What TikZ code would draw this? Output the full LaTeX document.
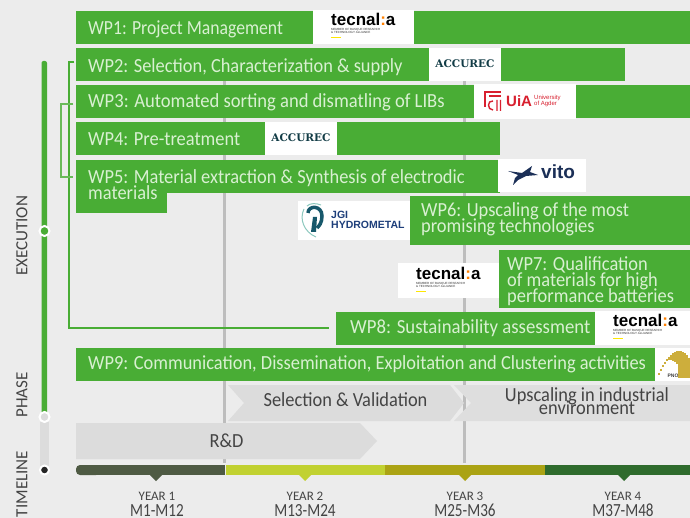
\documentclass[tikz,border=0pt]{standalone}
\usepackage{fontspec}
\setmainfont{Carlito}
\newfontfamily\wpfont[FakeStretch=0.92]{Carlito}
\newfontfamily\monthfont[FakeStretch=0.82]{Carlito}
\newfontfamily\logofont{Liberation Sans}
\newfontfamily\slabfont{DejaVu Serif}
\newcommand{\tightls}{\lineskiplimit -100pt\relax}
\definecolor{bg}{HTML}{ECECEC}
\definecolor{wpgreen}{HTML}{49AD35}
\definecolor{wptext}{HTML}{D9F0D2}
\definecolor{vline}{HTML}{BDBDBD}
\definecolor{chev}{HTML}{DCDCDC}
\definecolor{darktxt}{HTML}{444444}
\definecolor{yrA}{HTML}{4E5A43}
\definecolor{yrB}{HTML}{C1D131}
\definecolor{yrC}{HTML}{ABA314}
\definecolor{yrD}{HTML}{2F6B2D}
\definecolor{acc}{HTML}{123C46}
\definecolor{uia}{HTML}{D8202F}
\definecolor{vit}{HTML}{1B2F57}
\definecolor{jgi}{HTML}{1D3E7A}
\definecolor{gold}{HTML}{CDAE3C}
\definecolor{jgidark}{HTML}{17586B}
\definecolor{jgilight}{HTML}{8CC8BE}
\tikzset{
  x=1pt,y=-1pt,
  wpbar/.style={fill=wpgreen,draw=none},
  logobox/.style={fill=white,draw=none},
  wplabel/.style={anchor=base west,inner sep=0pt,text=wptext,font=\wpfont\fontsize{20}{16}\selectfont\tightls,align=left},
  chevlabel/.style={anchor=base,inner sep=0pt,text=darktxt,font=\wpfont\fontsize{20}{13}\selectfont\tightls,align=center},
  yearlabel/.style={anchor=base,inner sep=0pt,text=darktxt,font=\fontsize{13}{13}\selectfont},
  monthlabel/.style={anchor=base,inner sep=0pt,text=darktxt,font=\monthfont\fontsize{18.5}{18}\selectfont},
  sidelabel/.style={inner sep=0pt,rotate=90,text=darktxt,font=\fontsize{17}{17}\selectfont},
  tecword/.style={inner sep=0pt,font=\logofont\bfseries\fontsize{17}{17}\selectfont},
  tecsmall/.style={inner sep=0pt,anchor=north west,align=left,text=black!80,font=\logofont\fontsize{3}{3.4}\selectfont},
  accword/.style={inner sep=0pt,text=acc,font=\slabfont\bfseries\fontsize{10.5}{10.5}\selectfont},
  ringdot/.style={circle,draw=white,line width=2pt,minimum size=10pt,inner sep=0pt},
}
\newcommand{\teclogo}[2]{%
  \node[tecword,anchor=west] at (#1,#2) {tecnal\textcolor{orange}{:}a};
  \node[tecsmall] at (#1,#2+9) {MEMBER OF BASQUE RESEARCH\\\& TECHNOLOGY ALLIANCE};
  \fill[yellow!90!orange] (#1,#2+18) rectangle (#1+10,#2+19.3);
}
\begin{document}
\begin{tikzpicture}
\useasboundingbox (0,0) rectangle (690,518);
\fill[bg] (0,0) rectangle (690,518);
% vertical guides
\fill[vline] (223,81) rectangle (226,463);
\fill[vline] (463,81) rectangle (466,463);
% left rail
\fill[chev] (40,415) rectangle (49,470);
\fill[wpgreen,rounded corners=2pt] (41.5,61) rectangle (47,417);
\node[ringdot,fill=wpgreen] (railA) at (44.5,231) {};
\node[ringdot,fill=chev] (railB) at (44.5,417) {};
\node[ringdot,fill=black!85,minimum size=9pt] (railC) at (44.5,470) {};
\node[sidelabel] (lblExec) at (22,236) {EXECUTION};
\node[sidelabel] (lblPhase) at (22,395) {PHASE};
\node[sidelabel] (lblTime) at (22,484) {TIMELINE};
% brackets
\draw[wpgreen,line width=2pt] (74,62) -- (69,62) -- (69,328) -- (329,328);
\draw[wpgreen!80!bg,line width=1.5pt] (73,104) -- (61,104) -- (61,177) -- (73,177);
% WP bars
\fill[wpbar] (76,11) rectangle (690,44);
\fill[logobox] (313,10) rectangle (414,44);
\node[wplabel] (wpA) at (88,34.3) {\scalebox{0.96}[1]{WP1: Project Management}};
\teclogo{331}{19}
\fill[wpbar] (76,48) rectangle (625,81);
\fill[logobox] (429,48) rectangle (501,81);
\node[wplabel] (wpB) at (88,73) {WP2: Selection, Characterization \& supply};
\node[accword] (logoB) at (465,64) {ACCUREC};
\fill[wpbar] (76,85) rectangle (690,118);
\fill[logobox] (474,84) rectangle (576,119);
\node[wplabel] (wpC) at (88,108) {\scalebox{1.01}[1]{WP3: Automated sorting and dismatling of LIBs}};
\draw[uia,line width=1.4pt] (485,107) -- (485,92) -- (501,92) (489,96) -- (501,96);
\draw[uia,line width=1.4pt] (497,100) -- (497,111) (500.5,100) -- (500.5,111) (493,101) .. controls (487,100) and (487,110) .. (493,110);
\node[inner sep=0pt,text=uia,anchor=west,font=\logofont\bfseries\fontsize{15}{15}\selectfont] (logoC) at (506,101) {UiA};
\node[inner sep=0pt,text=uia,anchor=west,align=left,font=\logofont\fontsize{6}{6}\selectfont] (logoCb) at (534,101) {University\\of Agder};
\fill[wpbar] (76,122) rectangle (500,155);
\fill[logobox] (265,122) rectangle (337,155);
\node[wplabel] (wpD) at (88,146) {WP4: Pre-treatment};
\node[accword] (logoD) at (301,138) {ACCUREC};
\fill[wpbar] (76,160) rectangle (500,193);
\fill[wpbar] (76,160) rectangle (167,213);
\fill[logobox] (498,159) rectangle (586,192);
\node[wplabel] (wpE) at (88,200) {WP5: Material extraction \& Synthesis of electrodic\\materials};
\fill[vit] (508,171) -- (522,173) -- (532,166) -- (530,172) -- (538,175) -- (526,176) -- (518,180) -- (513,185) -- (515,178) -- (518,175) -- cycle;
\node[inner sep=0pt,text=vit,anchor=west,font=\logofont\bfseries\fontsize{19}{19}\selectfont] (logoE) at (541,172) {vito};
\fill[logobox] (298,201) rectangle (410,240);
\draw[jgilight,line width=1pt] (304,209) .. controls (299,219) and (304,232) .. (316,237);
\draw[jgilight,line width=1pt] (307,206) .. controls (310,203) and (316,203) .. (321,205);
\draw[jgidark,line width=3.5pt] (308,213) .. controls (308,205) and (322,205) .. (322,216) .. controls (322,223) and (319,226) .. (317,228);
\fill[jgidark] (313,217) -- (317,217) -- (316,232) -- (311,232) -- cycle;
\node[inner sep=0pt,text=jgi,anchor=west,align=left,font=\logofont\bfseries\fontsize{10.5}{10}\selectfont\tightls] (logoF) at (331,220) {JGI\\HYDROMETAL};
\fill[wpbar] (410,196) rectangle (690,245);
\node[wplabel] (wpF) at (421,233) {WP6: Upscaling of the most\\promising technologies};
\fill[logobox] (398,263) rectangle (499,298);
\teclogo{416}{273}
\fill[wpbar] (499,250) rectangle (690,308);
\node[wplabel] (wpG) at (507,302) {WP7: Qualification\\of materials for high\\performance batteries};
\fill[wpbar] (336,312) rectangle (595,345);
\fill[logobox] (595,311) rectangle (690,345);
\node[wplabel] (wpH) at (350,333) {\scalebox{1.02}[1]{WP8: Sustainability assessment}};
\teclogo{613}{320}
\fill[wpbar] (76,348) rectangle (655,381);
\fill[logobox] (655,348) rectangle (690,381);
\node[wplabel] (wpI) at (88,369) {WP9: Communication, Dissemination, Exploitation and Clustering activities};
\foreach \px in {659,661,...,689}{
  \pgfmathsetmacro{\topy}{\px<679 ? 351+((679-\px)/20)^2*22 : 351+((\px-679)/11)^2*8}
  \pgfmathsetmacro{\boty}{\px<668 ? \topy+2 : (\px<679 ? \topy+(\px-668)*1.2+2 : 378)}
  \draw[gold,line width=1.1pt] (\px,\topy) -- (\px,\boty);
}
\node[inner sep=0pt,font=\logofont\bfseries\fontsize{5}{5}\selectfont,text=black!75] (logoI) at (673,376) {PNO};
% phases
\fill[chev] (228,385) -- (450,385) -- (464,403) -- (450,421) -- (228,421) -- (244,403) -- cycle;
\node[chevlabel] (phB) at (345.5,406) {Selection \& Validation};
\fill[chev!85!bg] (454,385) -- (690,385) -- (690,421) -- (454,421) -- (471,403) -- cycle;
\node[chevlabel] (phC) at (587,414) {Upscaling in industrial\\environment};
\fill[chev] (76,423) -- (360,423) -- (377,441) -- (360,459) -- (76,459) -- cycle;
\node[chevlabel] (phA) at (226.5,447) {R\&D};
% timeline
\fill[yrA,rounded corners=4pt] (76,465) rectangle (100,475);
\fill[yrA] (85,465) rectangle (225,475);
\fill[yrB] (226,465) rectangle (385,475);
\fill[yrC] (385,465) rectangle (545,475);
\fill[yrD] (545,465) rectangle (690,475);
\fill[yrA] (150,475) -- (162,475) -- (156,481) -- cycle;
\fill[yrB] (299,475) -- (311,475) -- (305,481) -- cycle;
\fill[yrC] (459,475) -- (471,475) -- (465,481) -- cycle;
\fill[yrD] (618,475) -- (630,475) -- (624,481) -- cycle;
\node[yearlabel] (yA) at (157,500) {YEAR 1};
\node[monthlabel] (mA) at (157,516) {M1-M12};
\node[yearlabel] (yB) at (305,500) {YEAR 2};
\node[monthlabel] (mB) at (305,516) {M13-M24};
\node[yearlabel] (yC) at (465,500) {YEAR 3};
\node[monthlabel] (mC) at (465,516) {M25-M36};
\node[yearlabel] (yD) at (623,500) {YEAR 4};
\node[monthlabel] (mD) at (623,516) {M37-M48};
\end{tikzpicture}
\end{document}
